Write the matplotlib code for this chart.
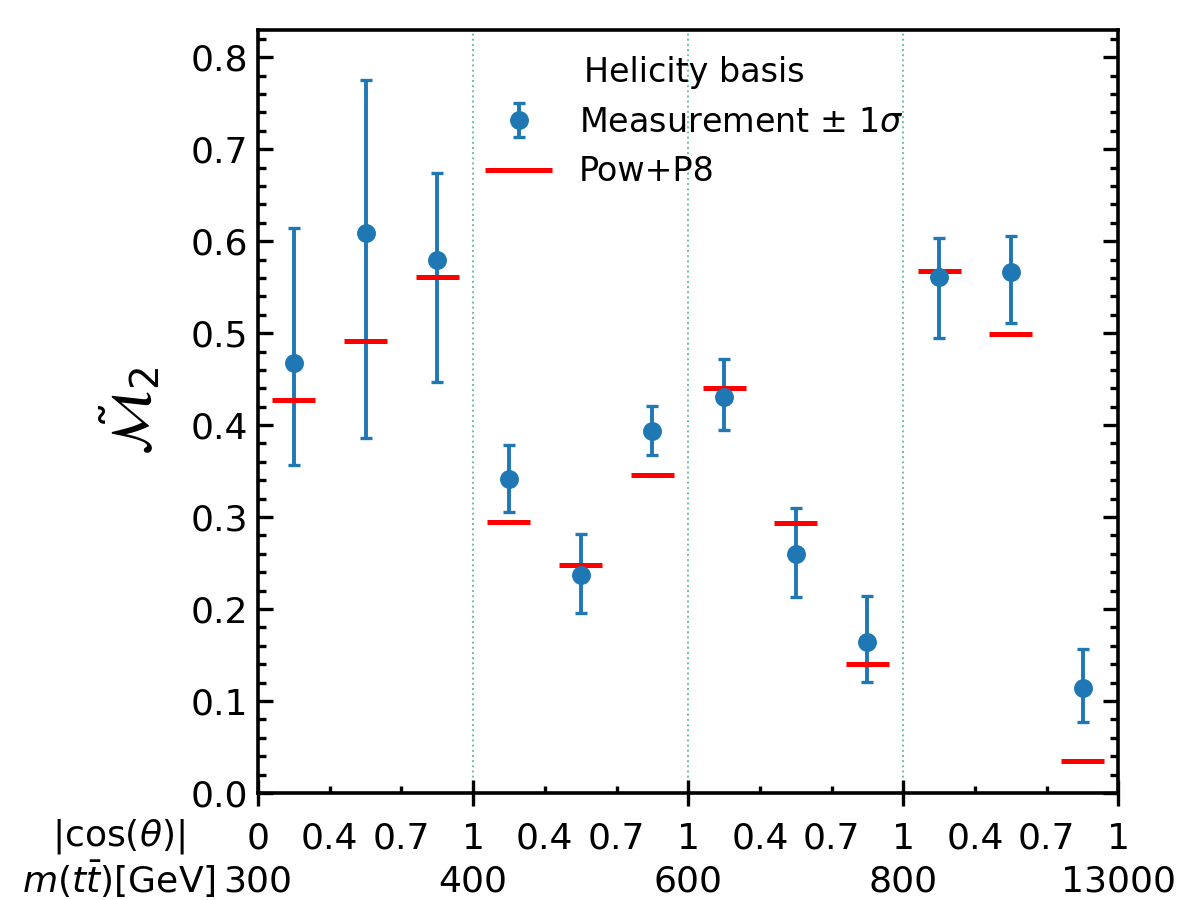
import numpy as np
import matplotlib.pyplot as plt
from matplotlib.ticker import MultipleLocator, FixedLocator, FixedFormatter

# 12 bins: 4 m(tt) ranges x 3 |cos(theta)| bins
meas = [0.468, 0.609, 0.580, 0.341, 0.237, 0.394, 0.431, 0.260, 0.164, 0.561, 0.567, 0.114]
err_up = [0.614, 0.775, 0.674, 0.378, 0.282, 0.421, 0.472, 0.310, 0.214, 0.603, 0.606, 0.156]
err_down = [0.357, 0.386, 0.447, 0.305, 0.196, 0.367, 0.395, 0.213, 0.121, 0.495, 0.511, 0.077]
powp8 = [0.427, 0.491, 0.561, 0.295, 0.248, 0.346, 0.440, 0.293, 0.140, 0.568, 0.499, 0.035]

cos_labels = ['0.4', '0.7']
cos_major = ['0', '1', '1', '1', '1']
mtt_edges = ['300', '400', '600', '800', '13000']

nbins = len(meas)
centers = np.arange(nbins) + 0.5
edges = np.arange(0, nbins + 1, 3)
meas = np.array(meas)
yerr = [meas - np.array(err_down), np.array(err_up) - meas]

fig = plt.figure(figsize=(6, 4.5), dpi=200)
ax = fig.add_axes([0.215, 0.119, 0.717, 0.848])

for b in edges[1:-1]:
    ax.axvline(b, color='#6fbfa8', ls=':', lw=0.7, zorder=0)

eb = ax.errorbar(centers, meas, yerr=yerr, fmt='o', color='#1f77b4', ms=5.8,
                 elinewidth=1.4, capsize=2.0, capthick=1.2,
                 label=r'Measurement $\pm$ $1\sigma$')
hl = ax.hlines(powp8, centers - 0.3, centers + 0.3, color='red', lw=1.8, label='Pow+P8')

ax.set_xlim(0, nbins)
ax.set_ylim(0, 0.83)

# x axis: major ticks at m(tt) edges, minor at cos bins
ax.xaxis.set_major_locator(FixedLocator(edges))
ax.xaxis.set_major_formatter(FixedFormatter(cos_major))
minor_pos = [i for i in range(nbins + 1) if i % 3 != 0]
ax.xaxis.set_minor_locator(FixedLocator(minor_pos))
ax.xaxis.set_minor_formatter(FixedFormatter(cos_labels * 4))

ax.yaxis.set_major_locator(MultipleLocator(0.1))
ax.yaxis.set_minor_locator(MultipleLocator(0.02))

ax.tick_params(axis='x', which='major', direction='inout', length=9.4, width=1.2,
               labelsize=13, pad=5.7, top=False)
ax.tick_params(axis='x', which='minor', direction='in', length=2.6, width=1.2,
               labelsize=13, pad=10.4, top=False)
ax.tick_params(axis='y', which='major', direction='in', length=5.4, width=1.2,
               labelsize=13, right=True)
ax.tick_params(axis='y', which='minor', direction='in', length=2.9, width=1.2, right=True)
for s in ax.spines.values():
    s.set_linewidth(1.3)

# second row of x labels: m(tt) bin edges
sec = ax.secondary_xaxis('bottom')
sec.set_xticks(edges, labels=mtt_edges)
sec.tick_params(axis='x', length=0, labelsize=13, pad=25.8)
sec.spines['bottom'].set_visible(False)

ax.text(-0.162, -0.0577, r'|cos($\theta$)|', transform=ax.transAxes,
        ha='center', va='center', fontsize=13)
ax.text(-0.162, -0.1127, r'$m(t\bar{t})$[GeV]', transform=ax.transAxes,
        ha='center', va='center', fontsize=13)

ax.set_ylabel(r'$\tilde{\mathcal{M}}_2$', fontsize=20, labelpad=10)

ax.legend([eb, hl], [eb.get_label(), hl.get_label()], loc='upper center',
          bbox_to_anchor=(0.507, 1.005), frameon=False, fontsize=12,
          title='Helicity basis', title_fontsize=12, labelspacing=0.5)

fig.savefig('out.png', dpi=200)
